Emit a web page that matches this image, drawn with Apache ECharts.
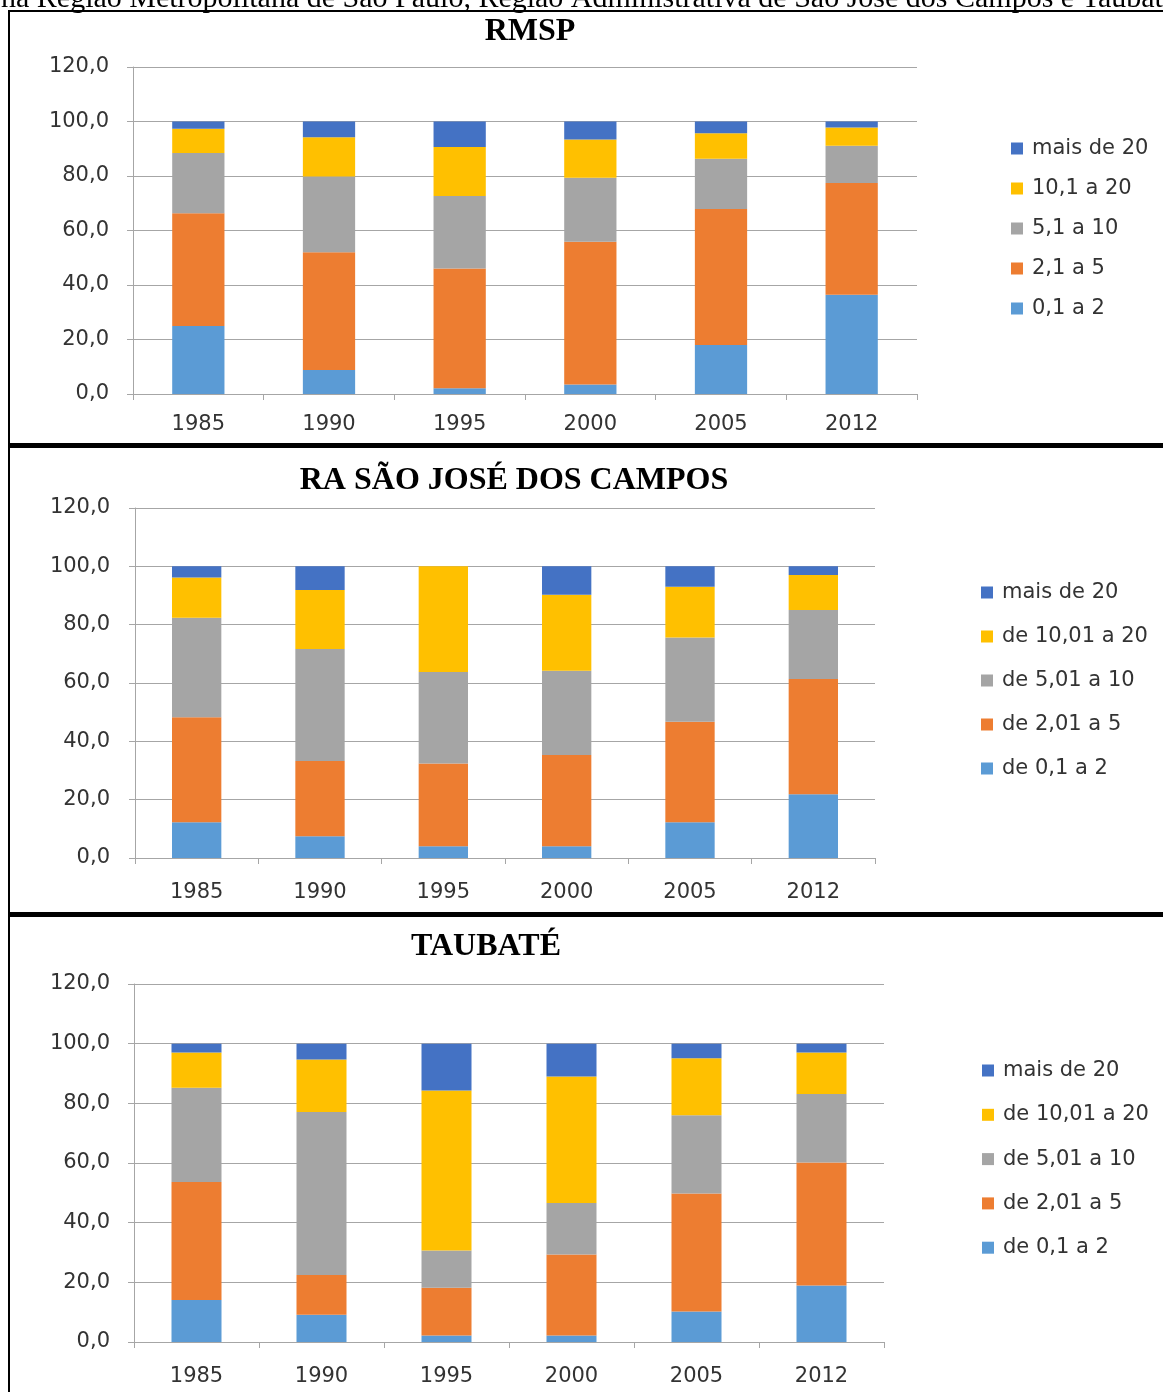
<!DOCTYPE html>
<html>
<head>
<meta charset="utf-8">
<script src="https://cdn.jsdelivr.net/npm/echarts@6/dist/echarts.min.js"></script>
<style>
html,body{margin:0;padding:0;background:#fff;}
#chart{width:1163px;height:1392px;}
</style>
</head>
<body>
<div id="chart"></div>
<script>
// ---- data ----
const categories = ['1985', '1990', '1995', '2000', '2005', '2012'];
const yTicks = [0, 20, 40, 60, 80, 100, 120];

const titles = ['RMSP', 'RA SÃO JOSÉ DOS CAMPOS', 'TAUBATÉ'];
const headerText = 'na Região Metropolitana de São Paulo, Região Administrativa de São José dos Campos e Taubaté';

// series names, bottom to top
const namesRMSP = ['0,1 a 2', '2,1 a 5', '5,1 a 10', '10,1 a 20', 'mais de 20'];
const namesRA = ['de 0,1 a 2', 'de 2,01 a 5', 'de 5,01 a 10', 'de 10,01 a 20', 'mais de 20'];

// RMSP
const rmsp_0_2 = [25.0, 8.8, 2.1, 3.5, 18.0, 36.4];
const rmsp_2_5 = [41.3, 43.2, 44.0, 52.4, 49.9, 41.0];
const rmsp_5_10 = [22.1, 27.8, 26.6, 23.5, 18.4, 13.7];
const rmsp_10_20 = [8.9, 14.4, 17.9, 14.0, 9.4, 6.7];
const rmsp_20 = [2.7, 5.8, 9.4, 6.6, 4.3, 2.2];

// RA São José dos Campos
const sjc_0_2 = [12.3, 7.5, 4.0, 4.0, 12.3, 21.9];
const sjc_2_5 = [36.0, 25.8, 28.4, 31.3, 34.4, 39.5];
const sjc_5_10 = [34.1, 38.4, 31.4, 28.9, 28.9, 23.6];
const sjc_10_20 = [13.8, 20.2, 36.2, 26.1, 17.4, 12.0];
const sjc_20 = [3.8, 8.1, 0.0, 9.7, 7.0, 3.0];

// Taubaté
const tau_0_2 = [14.1, 9.1, 2.2, 2.2, 10.2, 18.9];
const tau_2_5 = [39.5, 13.4, 16.0, 27.1, 39.6, 41.3];
const tau_5_10 = [31.6, 54.6, 12.5, 17.3, 26.2, 22.9];
const tau_10_20 = [11.8, 17.6, 53.6, 42.4, 19.1, 13.9];
const tau_20 = [3.0, 5.3, 15.7, 11.0, 4.9, 3.0];

// ---- styling ----
const colors = ['#5B9BD5', '#ED7D31', '#A5A5A5', '#FFC000', '#4472C4'];
const txt = '#333333';
const sans = 'DejaVu Sans';
const serif = 'Liberation Serif';

const panels = [
  { names: namesRMSP, data: [rmsp_0_2, rmsp_2_5, rmsp_5_10, rmsp_10_20, rmsp_20],
    grid: { left: 133, right: 246, top: 67, bottom: 998 },
    title: { x: 525, top: 11 }, legend: { left: 1006, top: 133, gap: 19 },
    xMargin: 20, yMargin: 24 },
  { names: namesRA, data: [sjc_0_2, sjc_2_5, sjc_5_10, sjc_10_20, sjc_20],
    grid: { left: 135, right: 288, top: 508, bottom: 534 },
    title: { x: 509, top: 460 }, legend: { left: 976, top: 577, gap: 23 },
    xMargin: 24, yMargin: 25 },
  { names: namesRA, data: [tau_0_2, tau_2_5, tau_5_10, tau_10_20, tau_20],
    grid: { left: 134, right: 279, top: 984, bottom: 50 },
    title: { x: 481, top: 926 }, legend: { left: 977, top: 1055, gap: 23.3 },
    xMargin: 24, yMargin: 24 }
];

const fmt = v => v.toFixed(1).replace('.', ',');

const option = {
  animation: false,
  backgroundColor: '#ffffff',
  title: panels.map((p, i) => ({
    text: titles[i], left: p.title.x, top: p.title.top, textAlign: 'center',
    textStyle: { fontFamily: serif, fontWeight: 'bold', fontSize: 32, color: '#000' }
  })),
  legend: panels.map(p => ({
    orient: 'vertical', left: p.legend.left, top: p.legend.top,
    itemWidth: 12, itemHeight: 12, itemGap: p.legend.gap, icon: 'rect',
    data: p.names.slice().reverse(),
    textStyle: { fontFamily: sans, fontSize: 21, color: txt, padding: [0, 0, 0, 4] }
  })),
  grid: panels.map(p => p.grid),
  xAxis: panels.map((p, i) => ({
    type: 'category', gridIndex: i, data: categories, boundaryGap: true,
    axisLine: { lineStyle: { color: '#a6a6a6', width: 1 } },
    axisTick: { show: true, length: 6, alignWithLabel: false, lineStyle: { color: '#a6a6a6' } },
    axisLabel: { fontFamily: sans, fontSize: 21, color: txt, margin: p.xMargin }
  })),
  yAxis: panels.map((p, i) => ({
    type: 'value', gridIndex: i, min: yTicks[0], max: yTicks[yTicks.length - 1], interval: 20,
    axisLine: { show: true, lineStyle: { color: '#a6a6a6', width: 1 } },
    axisTick: { show: true, length: 6, lineStyle: { color: '#a6a6a6' } },
    splitLine: { lineStyle: { color: '#a6a6a6', width: 1 } },
    axisLabel: { fontFamily: sans, fontSize: 21, color: txt, margin: p.yMargin, formatter: fmt }
  })),
  series: [],
  graphic: [
    { type: 'text', left: 1, top: -16, z: 10,
      style: { text: headerText, fontFamily: serif, fontSize: 30, fill: '#000' } },
    { type: 'rect', shape: { x: 8, y: 10, width: 1160, height: 2 }, style: { fill: '#000' } },
    { type: 'rect', shape: { x: 8, y: 10, width: 2, height: 1390 }, style: { fill: '#000' } },
    { type: 'rect', shape: { x: 8, y: 443, width: 1160, height: 5 }, style: { fill: '#000' } },
    { type: 'rect', shape: { x: 8, y: 912, width: 1160, height: 5 }, style: { fill: '#000' } }
  ]
};

panels.forEach((p, i) => {
  p.names.forEach((n, k) => {
    option.series.push({
      type: 'bar', name: n, stack: 'p' + i, xAxisIndex: i, yAxisIndex: i,
      barWidth: '40%', data: p.data[k],
      itemStyle: { color: colors[k] }
    });
  });
});

const chart = echarts.init(document.getElementById('chart'));
chart.setOption(option);
</script>
</body>
</html>
